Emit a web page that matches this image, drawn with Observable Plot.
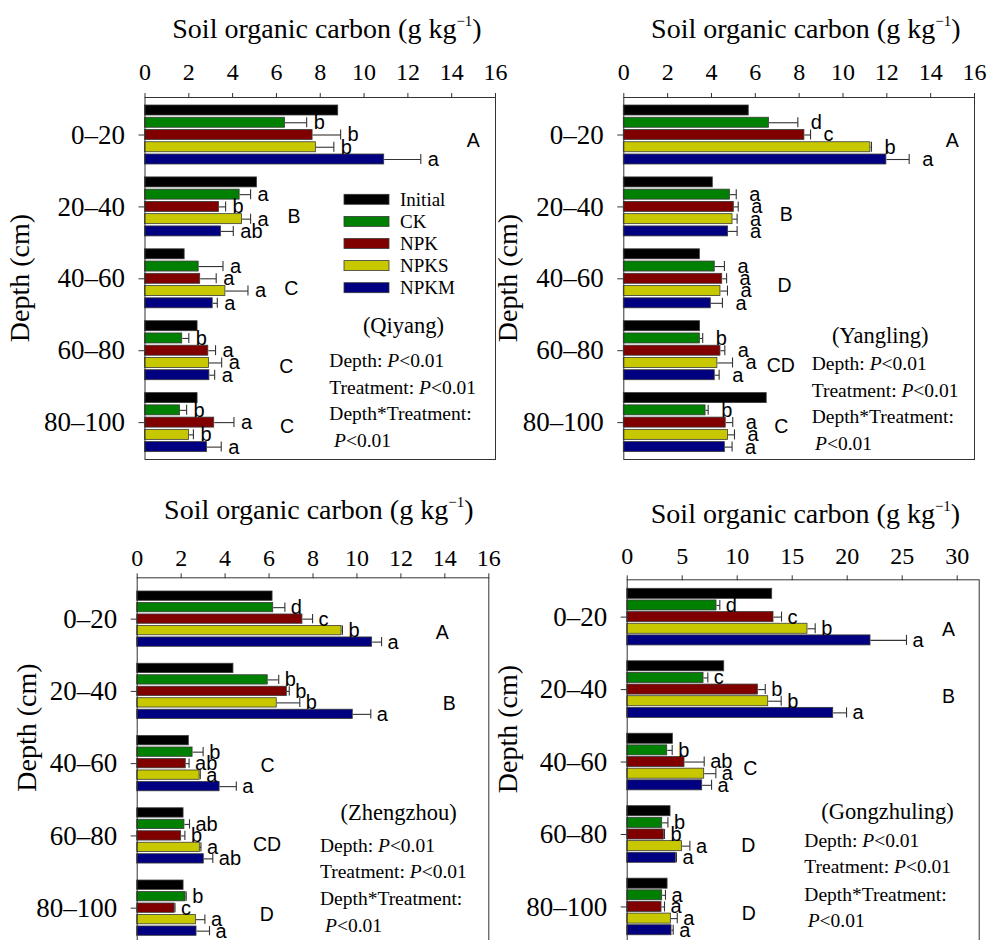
<!DOCTYPE html>
<html><head><meta charset="utf-8">
<script src="https://cdn.jsdelivr.net/npm/d3@7"></script>
<script src="https://cdn.jsdelivr.net/npm/@observablehq/plot@0.6"></script>
<style>
html,body{margin:0;padding:0;background:#fff;overflow:hidden;}
#root{position:relative;width:991px;height:940px;overflow:hidden;background:#fff;}
.panel{position:absolute;}
</style></head><body><div id="root"></div>
<script>
// ---------- data ----------
const depths = ["0–20", "20–40", "40–60", "60–80", "80–100"];
const treatments = ["Initial", "CK", "NPK", "NPKS", "NPKM"];
const treatmentColors = ["#000000", "#008000", "#800000", "#c8c800", "#000080"];

// rows: depth layers, columns: treatments (Initial, CK, NPK, NPKS, NPKM)
const qiyangMean = [
  [8.82, 6.39, 7.65, 7.80, 10.92],
  [5.11, 4.32, 3.38, 4.43, 3.47],
  [1.81, 2.45, 2.52, 3.67, 3.09],
  [2.40, 1.70, 2.89, 2.92, 2.94],
  [2.40, 1.60, 3.16, 2.01, 2.83]];
const qiyangErr = [
  [0, 0.99, 1.28, 0.82, 1.67],
  [0, 0.50, 0.30, 0.39, 0.56],
  [0, 1.11, 0.73, 1.03, 0.21],
  [0, 0.30, 0.33, 0.58, 0.24],
  [0, 0.30, 0.90, 0.20, 0.65]];
const qiyangLetters = [
  ["", "b", "b", "b", "a"],
  ["", "a", "b", "a", "ab"],
  ["", "a", "a", "a", "a"],
  ["", "b", "a", "a", "a"],
  ["", "b", "a", "b", "a"]];
const qiyangDepthLetters = ["A", "B", "C", "C", "C"];

const yanglingMean = [
  [5.70, 6.62, 8.24, 11.25, 11.98],
  [4.06, 4.84, 5.02, 4.96, 4.76],
  [3.47, 4.15, 4.49, 4.41, 3.97],
  [3.48, 3.47, 4.41, 4.27, 4.15],
  [6.52, 3.73, 4.65, 4.75, 4.61]];
const yanglingErr = [
  [0, 1.32, 0.28, 0.05, 1.04],
  [0, 0.29, 0.20, 0.21, 0.41],
  [0, 0.44, 0.20, 0.32, 0.53],
  [0, 0.13, 0.20, 0.69, 0.20],
  [0, 0.12, 0.32, 0.30, 0.33]];
const yanglingLetters = [
  ["", "d", "c", "b", "a"],
  ["", "a", "a", "a", "a"],
  ["", "a", "a", "a", "a"],
  ["", "b", "a", "a", "a"],
  ["", "b", "a", "a", "a"]];
const yanglingDepthLetters = ["A", "B", "D", "CD", "C"];

const zhengzhouMean = [
  [6.16, 6.19, 7.52, 9.30, 10.69],
  [4.38, 5.94, 6.81, 6.35, 9.81],
  [2.35, 2.52, 2.21, 2.84, 3.75],
  [2.11, 2.15, 2.00, 2.85, 3.03],
  [2.11, 2.20, 1.70, 2.67, 2.70]];
const zhengzhouErr = [
  [0, 0.53, 0.46, 0.04, 0.43],
  [0, 0.50, 0.11, 1.05, 0.82],
  [0, 0.48, 0.15, 0.03, 0.76],
  [0, 0.23, 0.17, 0.05, 0.41],
  [0, 0.03, 0.02, 0.41, 0.59]];
const zhengzhouLetters = [
  ["", "d", "c", "b", "a"],
  ["", "b", "b", "b", "a"],
  ["", "b", "ab", "a", "a"],
  ["", "ab", "b", "a", "ab"],
  ["", "b", "c", "a", "a"]];
const zhengzhouDepthLetters = ["A", "B", "C", "CD", "D"];

const gongzhulingMean = [
  [13.18, 8.12, 13.30, 16.39, 22.12],
  [8.82, 6.94, 11.88, 12.82, 18.73],
  [4.15, 3.64, 5.21, 7.00, 6.82],
  [3.94, 3.18, 3.33, 4.97, 4.42],
  [3.67, 3.18, 3.12, 3.97, 4.03]];
const gongzhulingErr = [
  [0, 0.30, 0.73, 0.70, 3.27],
  [0, 0.39, 0.67, 1.18, 1.21],
  [0, 0.45, 1.79, 1.06, 0.85],
  [0, 0.52, 0.06, 0.73, 0.06],
  [0, 0.30, 0.27, 0.58, 0.15]];
const gongzhulingLetters = [
  ["", "d", "c", "b", "a"],
  ["", "c", "b", "b", "a"],
  ["", "b", "ab", "a", "a"],
  ["", "b", "b", "a", "a"],
  ["", "a", "a", "a", "a"]];
const gongzhulingDepthLetters = ["A", "B", "C", "D", "D"];

const xTicks16 = [0, 2, 4, 6, 8, 10, 12, 14, 16];
const xTicks30 = [0, 5, 10, 15, 20, 25, 30];
const statLines = ["Depth: ", "Treatment: ", "Depth*Treatment:"];

// ---------- layout (positions / styles only) ----------
const SERIF = "'Liberation Serif','Times New Roman',Times,serif";
const SANS = "'Liberation Sans',Arial,Helvetica,sans-serif";

const panels = [
  { site: "Qiyang", mean: qiyangMean, err: qiyangErr, letters: qiyangLetters, depthLetters: qiyangDepthLetters,
    xMax: 16, xTicks: xTicks16,
    L: { left: 0, top: 0, width: 500, height: 470, mL: 144.5, mR: 5, mT: 97, mB: 11, tickPad: 13,
         yDomain: [-0.5216, 4.513], slot: 0.1704, bar: 0.139, letterDx: 7,
         groupPos: [[14.99, 2.5], [6.80, 2.8], [6.68, 2.8], [6.45, 3.3], [6.49, 2.3]],
         title: [327, 38], depthLab: [29, 278], siteLab: [403.5, 333.3],
         stats: [329.3, [366.7, 394, 420, 446.7], 334], legend: true } },
  { site: "Yangling", mean: yanglingMean, err: yanglingErr, letters: yanglingLetters, depthLetters: yanglingDepthLetters,
    xMax: 16, xTicks: xTicks16,
    L: { left: 490, top: 0, width: 501, height: 470, mL: 133.3, mR: 17, mT: 97, mB: 11, tickPad: 13,
         yDomain: [-0.5216, 4.513], slot: 0.1704, bar: 0.139, letterDx: 13,
         groupPos: [[14.98, 2.5], [7.41, 2.65], [7.33, 2.6], [7.16, 3.2], [7.18, 2.3]],
         title: [315.8, 37.5], depthLab: [27.3, 278], siteLab: [390.3, 342.6],
         stats: [321.7, [370, 396.7, 422.7, 450], 325] } },
  { site: "Zhengzhou", mean: zhengzhouMean, err: zhengzhouErr, letters: zhengzhouLetters, depthLetters: zhengzhouDepthLetters,
    xMax: 16, xTicks: xTicks16,
    L: { left: 0, top: 480, width: 500, height: 470, mL: 136.7, mR: 11.7, mT: 97.3, mB: 1, tickPad: 7.3,
         yDomain: [-0.572, 4.572], slot: 0.159, bar: 0.129, letterDx: 6,
         groupPos: [[13.88, 3.15], [14.2, 3.05], [5.93, 2.15], [5.91, 2.8], [5.9, 2.6]],
         title: [318.8, 39], depthLab: [35.7, 247.5], siteLab: [398.7, 340.3],
         stats: [320, [371.7, 398.3, 425, 451.7], 325] } },
  { site: "Gongzhuling", mean: gongzhulingMean, err: gongzhulingErr, letters: gongzhulingLetters, depthLetters: gongzhulingDepthLetters,
    xMax: 32, xTicks: xTicks30,
    L: { left: 490, top: 480, width: 501, height: 470, mL: 136.7, mR: 12.3, mT: 99.3, mB: 1, tickPad: 11,
         yDomain: [-0.515, 4.587], slot: 0.1607, bar: 0.1385, letterDx: 6,
         groupPos: [[29.2, 3.08], [29.2, 2.63], [11.2, 2.6], [11.0, 3.0], [11.05, 2.6]],
         title: [315.5, 43], depthLab: [27.3, 249], siteLab: [397.5, 338.6],
         stats: [314.3, [366.7, 393.3, 421, 446.7], 317.7] } }
];

const root = document.getElementById("root");

for (const p of panels) {
  const L = p.L;
  const rows = [];
  depths.forEach((dep, g) => treatments.forEach((tr, t) => {
    rows.push({ g, t, depth: dep, treatment: tr, mean: p.mean[g][t], err: p.err[g][t],
      letter: p.letters[g][t], yc: g + (t - 2) * L.slot });
  }));
  const half = L.bar / 2;
  const withErr = rows.filter(d => d.err > 0);
  const groupLabels = p.depthLetters.map((lab, g) => ({ lab, x: L.groupPos[g][0], y: g + (L.groupPos[g][1] - 2) * L.slot }));

  const svgEl = Plot.plot({
    width: L.width, height: L.height,
    marginLeft: L.mL, marginRight: L.mR, marginTop: L.mT, marginBottom: L.mB,
    style: { fontFamily: SERIF, color: "#000", background: "none", overflow: "visible" },
    x: { domain: [0, p.xMax], axis: null },
    y: { domain: L.yDomain, reverse: true, axis: null },
    color: { domain: treatments, range: treatmentColors },
    marks: [
      Plot.rect(rows, { x1: 0, x2: "mean", y1: d => d.yc - half, y2: d => d.yc + half,
        fill: "treatment", stroke: "#3a3a3a", strokeWidth: 0.8 }),
      Plot.link(withErr, { x1: "mean", x2: d => d.mean + d.err, y1: "yc", y2: "yc", stroke: "#333", strokeWidth: 1.1 }),
      Plot.ruleX(withErr, { x: d => d.mean + d.err, y1: d => d.yc - half, y2: d => d.yc + half, stroke: "#333", strokeWidth: 1.1 }),
      Plot.text(rows.filter(d => d.letter), { x: d => d.mean + d.err, y: "yc", text: "letter", dx: L.letterDx,
        textAnchor: "start", fontFamily: SANS, fontSize: 20, fill: "#000" }),
      Plot.text(groupLabels, { x: "x", y: "y", text: "lab", fontFamily: SANS, fontSize: 19.5, fill: "#000" }),
      Plot.frame({ stroke: "#333", strokeWidth: 1 }),
      Plot.axisX(p.xTicks, { anchor: "top", tickSize: 5, tickPadding: L.tickPad, fontSize: 24, label: null, stroke: "#333" }),
      Plot.axisY(d3.range(depths.length), { anchor: "left", tickSize: 6, tickPadding: 14, fontSize: 27,
        tickFormat: i => depths[i], label: null, stroke: "#333" })
    ]
  });

  const svg = d3.select(svgEl);
  // axis title
  const title = svg.append("text").attr("x", L.title[0]).attr("y", L.title[1])
    .attr("text-anchor", "middle").attr("font-family", SERIF).attr("font-size", 28).attr("fill", "#000");
  title.append("tspan").text("Soil organic carbon (g kg");
  title.append("tspan").attr("font-size", 15).attr("dy", -12).text("−1");
  title.append("tspan").attr("dy", 12).text(")");
  // depth label
  svg.append("text").attr("transform", `translate(${L.depthLab[0]},${L.depthLab[1]}) rotate(-90)`)
    .attr("text-anchor", "middle").attr("font-family", SERIF).attr("font-size", 28).attr("fill", "#000")
    .text("Depth (cm)");
  // site label
  svg.append("text").attr("x", L.siteLab[0]).attr("y", L.siteLab[1]).attr("text-anchor", "middle")
    .attr("font-family", SERIF).attr("font-size", 22.5).attr("fill", "#000").text(`(${p.site})`);
  // statistics
  const [sx, sys, px] = L.stats;
  statLines.forEach((s, i) => {
    const t = svg.append("text").attr("x", sx).attr("y", sys[i]).attr("text-anchor", "start")
      .attr("font-family", SERIF).attr("font-size", 19.5).attr("fill", "#000");
    t.append("tspan").text(s);
    if (i < 2) {
      t.append("tspan").attr("font-style", "italic").text("P");
      t.append("tspan").text("<0.01");
    }
  });
  const last = svg.append("text").attr("x", px).attr("y", sys[3]).attr("text-anchor", "start")
    .attr("font-family", SERIF).attr("font-size", 19.5).attr("fill", "#000");
  last.append("tspan").attr("font-style", "italic").text("P");
  last.append("tspan").text("<0.01");

  // legend
  if (L.legend) {
    const lg = svg.append("g");
    treatments.forEach((tr, i) => {
      const y = 199.3 + i * 22.1;
      lg.append("rect").attr("x", 344).attr("y", y - 5).attr("width", 45).attr("height", 10)
        .attr("fill", treatmentColors[i]).attr("stroke", "#3a3a3a").attr("stroke-width", 0.8);
      lg.append("text").attr("x", 400).attr("y", y).attr("dy", "0.35em").attr("text-anchor", "start")
        .attr("font-family", SERIF).attr("font-size", 19).attr("fill", "#000").text(tr);
    });
  }

  const div = document.createElement("div");
  div.className = "panel";
  div.style.left = L.left + "px";
  div.style.top = L.top + "px";
  div.appendChild(svgEl);
  root.appendChild(div);
}
</script></body></html>
